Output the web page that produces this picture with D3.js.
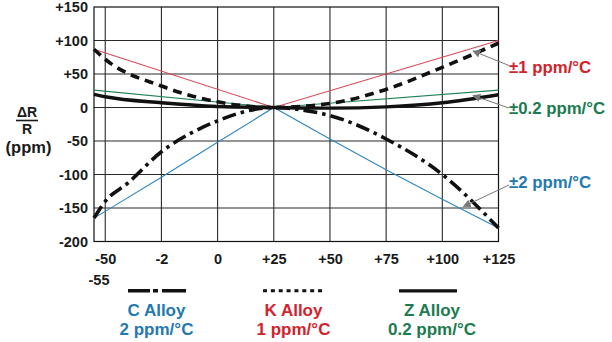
<!DOCTYPE html>
<html>
<head>
<meta charset="utf-8">
<script src="https://cdn.jsdelivr.net/npm/d3@7"></script>
<style>
  html, body { margin: 0; padding: 0; background: #fff; }
  svg { display: block; }
  text { font-family: "Liberation Sans", Arial, Helvetica, sans-serif; font-weight: bold; }
</style>
</head>
<body>
<svg id="chart" width="612" height="342"></svg>
<script>
// Temperature axis (°C) and resistance change axis (ppm)
const xTickValues = [-50, -25, 0, 25, 50, 75, 100, 125];
const xTickLabels = ["-50", "-2", "0", "+25", "+50", "+75", "+100", "+125"];
const yTickValues = [-200, -150, -100, -50, 0, 50, 100, 150];
const yTickLabels = ["-200", "-150", "-100", "-50", "0", "+50", "+100", "+150"];

// Tolerance envelopes (thin lines)
const kBoundT = [-55, 25, 125];
const kBound = [87, 0, 100];
const zBoundT = [-55, 25, 125];
const zBound = [26, 0, 26];
const cBoundT = [-55, -50, -25, 0, 25, 50, 75, 100, 125];
const cBound = [-165, -155, -104, -52, 0, -47, -93, -137, -180];

// Alloy resistance curves (thick black lines)
const cAlloyT = [-55, -50, -40, -25, -10, 0, 10, 25, 40, 50, 75, 100, 125];
const cAlloy = [-165, -140, -113, -66, -35, -20, -8, 0, -5, -12, -47, -100, -180];
const kAlloyT = [-55, -50, -25, 0, 25, 50, 75, 100, 125];
const kAlloy = [87, 72, 32, 8.5, 0, 6, 27, 60, 96];
const zAlloyT = [-55, -50, -25, 0, 25, 50, 75, 100, 125];
const zAlloy = [19.5, 16, 7, 1.5, 0, -1, 1, 7, 19];

const RED = "#d2232d", GREEN = "#1c7b4f", BLUE = "#2479b0";
const RED_LINE = "#d64a55", GREEN_LINE = "#23845a", BLUE_LINE = "#2f88bd";

const svg = d3.select("#chart");
svg.append("rect").attr("width", 612).attr("height", 342).attr("fill", "#fff");

const x = d3.scaleLinear().domain([-55, 125]).range([94, 498.5]);
const y = d3.scaleLinear().domain([-200, 150]).range([241.5, 7]);

// grid
const grid = svg.append("g").attr("stroke", "#2a2a2a").attr("stroke-width", 1.1);
yTickValues.filter(v => v > -200 && v < 150).forEach(v => {
  grid.append("line").attr("x1", x(-55)).attr("x2", x(125)).attr("y1", y(v)).attr("y2", y(v));
});
xTickValues.filter(v => v < 125).forEach(v => {
  grid.append("line").attr("x1", x(v)).attr("x2", x(v)).attr("y1", y(-200)).attr("y2", y(150));
});
svg.append("rect")
  .attr("x", x(-55)).attr("y", y(150))
  .attr("width", x(125) - x(-55)).attr("height", y(-200) - y(150))
  .attr("fill", "none").attr("stroke", "#111").attr("stroke-width", 1.2);

// axes
const yAxis = d3.axisLeft(y).tickValues(yTickValues).tickSize(0).tickPadding(6)
  .tickFormat((d, i) => yTickLabels[i]);
const gy = svg.append("g").attr("transform", `translate(${x(-55)},0)`).call(yAxis);
gy.select(".domain").remove();
gy.selectAll("text").attr("font-size", 14.5).attr("fill", "#1a1a1a")
  .style("font-family", '"Liberation Sans", Arial, sans-serif').style("font-weight", "bold");

const xAxis = d3.axisBottom(x).tickValues(xTickValues).tickSize(0).tickPadding(12.5)
  .tickFormat((d, i) => xTickLabels[i]);
const gx = svg.append("g").attr("transform", `translate(0,${y(-200)})`).call(xAxis);
gx.select(".domain").remove();
gx.selectAll("text").attr("font-size", 14.5).attr("fill", "#1a1a1a")
  .style("font-family", '"Liberation Sans", Arial, sans-serif').style("font-weight", "bold");

svg.append("text").attr("x", x(-55) + 5).attr("y", 284.5).attr("text-anchor", "middle")
  .attr("font-size", 14.5).attr("fill", "#1a1a1a").text("-55");

// y axis title: ΔR / R (ppm)
const yt = svg.append("g").attr("fill", "#1a1a1a");
yt.append("text").attr("x", 27).attr("y", 117).attr("text-anchor", "middle").attr("font-size", 14).text("ΔR");
yt.append("line").attr("x1", 16).attr("x2", 38).attr("y1", 120.5).attr("y2", 120.5)
  .attr("stroke", "#1a1a1a").attr("stroke-width", 1.6);
yt.append("text").attr("x", 27).attr("y", 134).attr("text-anchor", "middle").attr("font-size", 14).text("R");
yt.append("text").attr("x", 28.5).attr("y", 152.5).attr("text-anchor", "middle").attr("font-size", 16.5).text("(ppm)");

// series
const pts = (ts, vs) => ts.map((t, i) => [t, vs[i]]);
const straight = d3.line().x(d => x(d[0])).y(d => y(d[1]));
const smooth = d3.line().x(d => x(d[0])).y(d => y(d[1])).curve(d3.curveMonotoneX);

svg.append("path").attr("d", straight(pts(kBoundT, kBound)))
  .attr("fill", "none").attr("stroke", RED_LINE).attr("stroke-width", 1.1);
svg.append("path").attr("d", straight(pts(zBoundT, zBound)))
  .attr("fill", "none").attr("stroke", GREEN_LINE).attr("stroke-width", 1.1);
svg.append("path").attr("d", straight(pts(cBoundT, cBound)))
  .attr("fill", "none").attr("stroke", BLUE_LINE).attr("stroke-width", 1.1);

svg.append("path").attr("d", smooth(pts(zAlloyT, zAlloy)))
  .attr("fill", "none").attr("stroke", "#111").attr("stroke-width", 3.4);
svg.append("path").attr("d", smooth(pts(kAlloyT, kAlloy)))
  .attr("fill", "none").attr("stroke", "#111").attr("stroke-width", 3.6)
  .attr("stroke-dasharray", "9,6");
svg.append("path").attr("d", smooth(pts(cAlloyT, cAlloy)))
  .attr("fill", "none").attr("stroke", "#111").attr("stroke-width", 3.6)
  .attr("stroke-dasharray", "14,5,3.5,5");

// callouts
svg.append("defs").append("marker")
  .attr("id", "arrowhead").attr("viewBox", "0 0 10 10").attr("refX", 9).attr("refY", 5)
  .attr("markerWidth", 8).attr("markerHeight", 8).attr("markerUnits", "userSpaceOnUse")
  .attr("orient", "auto")
  .append("path").attr("d", "M0,0 L10,5 L0,10 Z").attr("fill", "#777");

const callouts = [
  { label: "±1 ppm/°C", color: RED, tx: 509, ty: 72.7, from: [509, 65.5], to: [473, 51] },
  { label: "±0.2 ppm/°C", color: GREEN, tx: 509, ty: 114.3, from: [509, 108], to: [473, 95.5] },
  { label: "±2 ppm/°C", color: BLUE, tx: 509, ty: 188.3, from: [509, 185], to: [463.5, 206.5] }
];
callouts.forEach(c => {
  svg.append("line").attr("x1", c.from[0]).attr("y1", c.from[1]).attr("x2", c.to[0]).attr("y2", c.to[1])
    .attr("stroke", "#777").attr("stroke-width", 1).attr("marker-end", "url(#arrowhead)");
  svg.append("text").attr("x", c.tx).attr("y", c.ty).attr("font-size", 16.8).attr("fill", c.color).text(c.label);
});

// legend
const legend = [
  { name: "C Alloy", rate: "2 ppm/°C", color: BLUE, x0: 128, x1: 186, dash: "22,3,5,4,24", width: 3.4, cx: 156.5 },
  { name: "K Alloy", rate: "1 ppm/°C", color: RED, x0: 263, x1: 322, dash: "4,3.86", width: 3, cx: 293.5 },
  { name: "Z Alloy", rate: "0.2 ppm/°C", color: GREEN, x0: 399, x1: 457, dash: null, width: 3.2, cx: 432 }
];
legend.forEach(l => {
  const ln = svg.append("line").attr("x1", l.x0).attr("x2", l.x1).attr("y1", 290.8).attr("y2", 290.8)
    .attr("stroke", "#111").attr("stroke-width", l.width);
  if (l.dash) ln.attr("stroke-dasharray", l.dash);
  svg.append("text").attr("x", l.cx).attr("y", 316).attr("text-anchor", "middle")
    .attr("font-size", 17).attr("fill", l.color).text(l.name);
  svg.append("text").attr("x", l.cx).attr("y", 334.5).attr("text-anchor", "middle")
    .attr("font-size", 17).attr("fill", l.color).text(l.rate);
});
</script>
</body>
</html>
